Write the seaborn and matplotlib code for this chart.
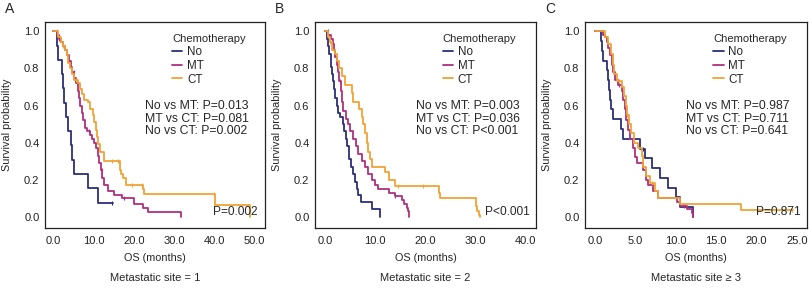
import numpy as np
import seaborn as sns
import matplotlib.pyplot as plt
from matplotlib.lines import Line2D

groups = ["No", "MT", "CT"]
colors = {"No": "#2b2f7a", "MT": "#b0307f", "CT": "#f2a234"}

# ---- panel A : metastatic site = 1 ----
a_no_t = [0, 1.0, 1.25, 2.1, 2.5, 2.7, 3.2, 3.7, 4.3, 4.7, 5.2, 8.5, 11.0, 14.8]
a_no_s = [1.0, 0.923, 0.846, 0.769, 0.692, 0.615, 0.538, 0.462, 0.385, 0.308, 0.231, 0.154, 0.077, 0.077]
a_mt_t = [0, 0.8, 1.3, 1.8, 2.3, 2.8, 3.3, 3.8, 4.3, 4.7, 5.2, 5.6, 6.0, 6.3, 6.6, 7.0, 7.4, 7.8,
          8.4, 9.0, 9.6, 10.2, 10.6, 11.0, 11.4, 11.8, 12.2, 12.6, 13.5, 15.0, 17.0, 20.0, 22.3,
          23.5, 31.7]
a_mt_s = [1.0, 0.98, 0.96, 0.94, 0.92, 0.90, 0.87, 0.84, 0.81, 0.78, 0.75, 0.72, 0.68, 0.64, 0.60,
          0.56, 0.52, 0.48, 0.46, 0.44, 0.42, 0.40, 0.37, 0.33, 0.29, 0.25, 0.21, 0.17, 0.14, 0.12,
          0.10, 0.07, 0.05, 0.025, 0.0]
a_ct_t = [0, 1.25, 1.8, 2.3, 2.9, 3.3, 3.7, 4.2, 4.6, 5.1, 6.0, 6.6, 7.1, 7.6, 8.7, 9.1, 9.8, 10.1,
          10.5, 10.8, 11.1, 11.6, 12.5, 16.6, 16.8, 17.3, 18.1, 22.3, 22.6, 40.3, 49.0]
a_ct_s = [1.0, 0.97, 0.94, 0.92, 0.90, 0.87, 0.83, 0.80, 0.77, 0.74, 0.72, 0.69, 0.66, 0.63, 0.62,
          0.58, 0.55, 0.51, 0.47, 0.43, 0.39, 0.35, 0.30, 0.25, 0.23, 0.21, 0.17, 0.15, 0.125,
          0.063, 0.0]
a_cens = {"No": [14.7], "MT": [1.5, 5.0, 8.8, 12.0, 17.5],
          "CT": [1.0, 2.5, 5.5, 14.5, 16.2, 19.5, 22.0, 40.0]}

# ---- panel B : metastatic site = 2 ----
b_no_t = [0, 0.33, 0.67, 0.87, 1.13, 1.4, 1.67, 1.87, 2.07, 2.33, 2.67, 3.0, 3.67, 3.8, 4.2, 4.47,
          4.73, 5.13, 5.53, 5.93, 6.33, 6.67, 7.2, 9.33, 11.0]
b_no_s = [1.0, 0.96, 0.92, 0.88, 0.81, 0.77, 0.73, 0.69, 0.64, 0.60, 0.56, 0.54, 0.50, 0.46, 0.42,
          0.38, 0.31, 0.27, 0.23, 0.19, 0.15, 0.12, 0.08, 0.04, 0.0]
b_mt_t = [0, 0.67, 1.2, 1.53, 1.8, 2.0, 2.33, 2.67, 2.87, 3.13, 3.47, 3.67, 4.2, 4.67, 5.0, 5.67,
          6.2, 6.67, 7.33, 8.0, 8.67, 9.33, 10.0, 10.67, 12.67, 14.0, 15.33, 15.8, 16.33, 16.53, 16.67]
b_mt_s = [1.0, 0.98, 0.96, 0.93, 0.90, 0.86, 0.82, 0.78, 0.73, 0.68, 0.62, 0.57, 0.53, 0.50, 0.46,
          0.42, 0.38, 0.34, 0.30, 0.27, 0.23, 0.20, 0.17, 0.15, 0.13, 0.11, 0.09, 0.07, 0.05, 0.03, 0.0]
b_ct_t = [0, 0.67, 1.0, 1.33, 2.0, 2.33, 2.8, 3.33, 4.0, 5.47, 5.67, 6.87, 7.33, 7.67, 8.0, 8.33,
          8.67, 9.0, 9.33, 12.0, 12.67, 14.0, 22.67, 23.0, 30.13, 30.33, 30.67, 31.0]
b_ct_s = [1.0, 0.97, 0.94, 0.90, 0.88, 0.84, 0.80, 0.76, 0.71, 0.67, 0.62, 0.58, 0.54, 0.50, 0.45,
          0.40, 0.35, 0.31, 0.27, 0.24, 0.20, 0.165, 0.13, 0.10, 0.06, 0.03, 0.01, 0.0]
b_cens = {"No": [], "MT": [0.5, 3.0, 14.0], "CT": [1.0, 14.5, 19.5]}

# ---- panel C : metastatic site >= 3 ----
c_no_t = [0, 0.74, 0.83, 0.95, 1.45, 1.57, 1.74, 1.86, 1.98, 2.19, 3.18, 3.43, 5.58, 6.2, 7.02,
          8.06, 9.09, 10.04, 10.54, 12.1]
c_no_s = [1.0, 0.947, 0.895, 0.842, 0.789, 0.737, 0.684, 0.632, 0.579, 0.526, 0.474, 0.421, 0.368,
          0.316, 0.263, 0.211, 0.158, 0.105, 0.053, 0.0]
c_mt_t = [0, 1.03, 1.24, 1.45, 1.65, 1.86, 2.07, 2.27, 2.48, 2.89, 3.31, 3.51, 3.72, 3.84, 4.13,
          4.34, 4.75, 4.96, 5.17, 5.99, 6.32, 6.61, 7.23, 7.85, 10.2, 10.5, 11.4, 12.0, 12.1]
c_mt_s = [1.0, 0.98, 0.97, 0.94, 0.91, 0.87, 0.82, 0.78, 0.74, 0.71, 0.68, 0.63, 0.58, 0.52, 0.47,
          0.42, 0.37, 0.32, 0.29, 0.25, 0.20, 0.17, 0.14, 0.10, 0.08, 0.06, 0.04, 0.02, 0.0]
c_ct_t = [0, 1.24, 1.65, 1.94, 2.19, 2.36, 2.77, 3.31, 3.6, 3.84, 4.0, 4.21, 4.42, 4.83, 5.37,
          5.79, 5.99, 6.32, 6.82, 7.44, 7.85, 10.5, 18.1, 24.5]
c_ct_s = [1.0, 0.97, 0.93, 0.88, 0.82, 0.77, 0.73, 0.70, 0.65, 0.60, 0.55, 0.50, 0.45, 0.40, 0.37,
          0.33, 0.27, 0.22, 0.18, 0.14, 0.10, 0.07, 0.035, 0.035]
c_cens = {"No": [6.0], "MT": [2.2, 3.0, 11.0], "CT": [3.0, 4.0, 7.0, 24.4]}

panels = [
    ("A", {"No": (a_no_t, a_no_s), "MT": (a_mt_t, a_mt_s), "CT": (a_ct_t, a_ct_s)}, a_cens,
     ["No vs MT: P=0.013", "MT vs CT: P=0.081", "No vs CT: P=0.002"], "P=0.002", 39.8,
     np.arange(0, 51, 10), (-2.1, 52.7), "Metastatic site = 1"),
    ("B", {"No": (b_no_t, b_no_s), "MT": (b_mt_t, b_mt_s), "CT": (b_ct_t, b_ct_s)}, b_cens,
     ["No vs MT: P=0.003", "MT vs CT: P=0.036", "No vs CT: P<0.001"], "P<0.001", 32.0,
     np.arange(0, 41, 10), (-2.0, 42.1), "Metastatic site = 2"),
    ("C", {"No": (c_no_t, c_no_s), "MT": (c_mt_t, c_mt_s), "CT": (c_ct_t, c_ct_s)}, c_cens,
     ["No vs MT: P=0.987", "MT vs CT: P=0.711", "No vs CT: P=0.641"], "P=0.871", 19.95,
     np.arange(0, 26, 5), (-1.24, 26.24), "Metastatic site \u2265 3"),
]

sns.set_style("white")
plt.rcParams['font.family'] = ['Liberation Sans', 'DejaVu Sans']

fig = plt.figure(figsize=(8.09, 2.88), dpi=100)
lefts = [45 / 809, 315 / 809, 585 / 809]
widths = [220 / 809, 221 / 809, 222 / 809]

for k, (letter, curves, cens, ptxt, pall, px, xt, xl, title) in enumerate(panels):
    ax = fig.add_axes([lefts[k], 60 / 288, widths[k], 206 / 288])
    for g in groups:
        t, s = curves[g]
        sns.lineplot(x=t, y=s, ax=ax, color=colors[g], drawstyle='steps-post',
                     estimator=None, sort=False, linewidth=1.3)
        if cens[g]:
            idx = np.searchsorted(t, cens[g], side='right') - 1
            ax.plot(cens[g], np.array(s)[idx], linestyle='none', marker='|',
                    markersize=3.5, markeredgewidth=0.8, color=colors[g])
    ax.set_xlim(*xl)
    ax.set_ylim(-0.06, 1.05)
    ax.set_xticks(xt)
    ax.set_xticklabels([f"{v:.1f}" for v in xt], fontsize=8)
    ax.set_yticks([0, 0.2, 0.4, 0.6, 0.8, 1.0])
    ax.set_yticklabels([f"{v:.1f}" for v in [0, 0.2, 0.4, 0.6, 0.8, 1.0]], fontsize=8)
    ax.tick_params(direction='out', length=2.5, width=0.8, pad=1.5, colors='#222222')
    ax.tick_params(axis='x', pad=3)
    for sp in ax.spines.values():
        sp.set_color('#222222')
        sp.set_linewidth(0.9)
    ax.set_xlabel("OS (months)", fontsize=7.8)
    ax.xaxis.set_label_coords(0.5, -0.12)
    ax.set_ylabel("Survival probability", fontsize=7.8)
    ax.yaxis.set_label_coords(-0.15, 0.5)

    handles = [Line2D([], [], color=colors[g], linewidth=1.3) for g in groups]
    ax.legend(handles, groups, title="Chemotherapy", frameon=False, fontsize=8.4,
              title_fontsize=8, loc='upper left', bbox_to_anchor=(0.54, 0.98),
              handlelength=0.9, handletextpad=0.4, labelspacing=0.15,
              borderpad=0.2, alignment='left')
    for i, line in enumerate(ptxt):
        ax.text(0.455, 0.596 - i * 0.067, line, transform=ax.get_yaxis_transform(),
                fontsize=8.8, va='center', ha='left')
    ax.text(px, 0.025, pall, fontsize=8.6, va='center', ha='left')
    ax.text(0.5, -0.243, title, transform=ax.transAxes, fontsize=8,
            ha='center', va='center')
    fig.text((lefts[k] * 809 - 40) / 809, 1 - 9 / 288, letter, fontsize=10,
             ha='left', va='center')

fig.savefig("out.png", dpi=100)
